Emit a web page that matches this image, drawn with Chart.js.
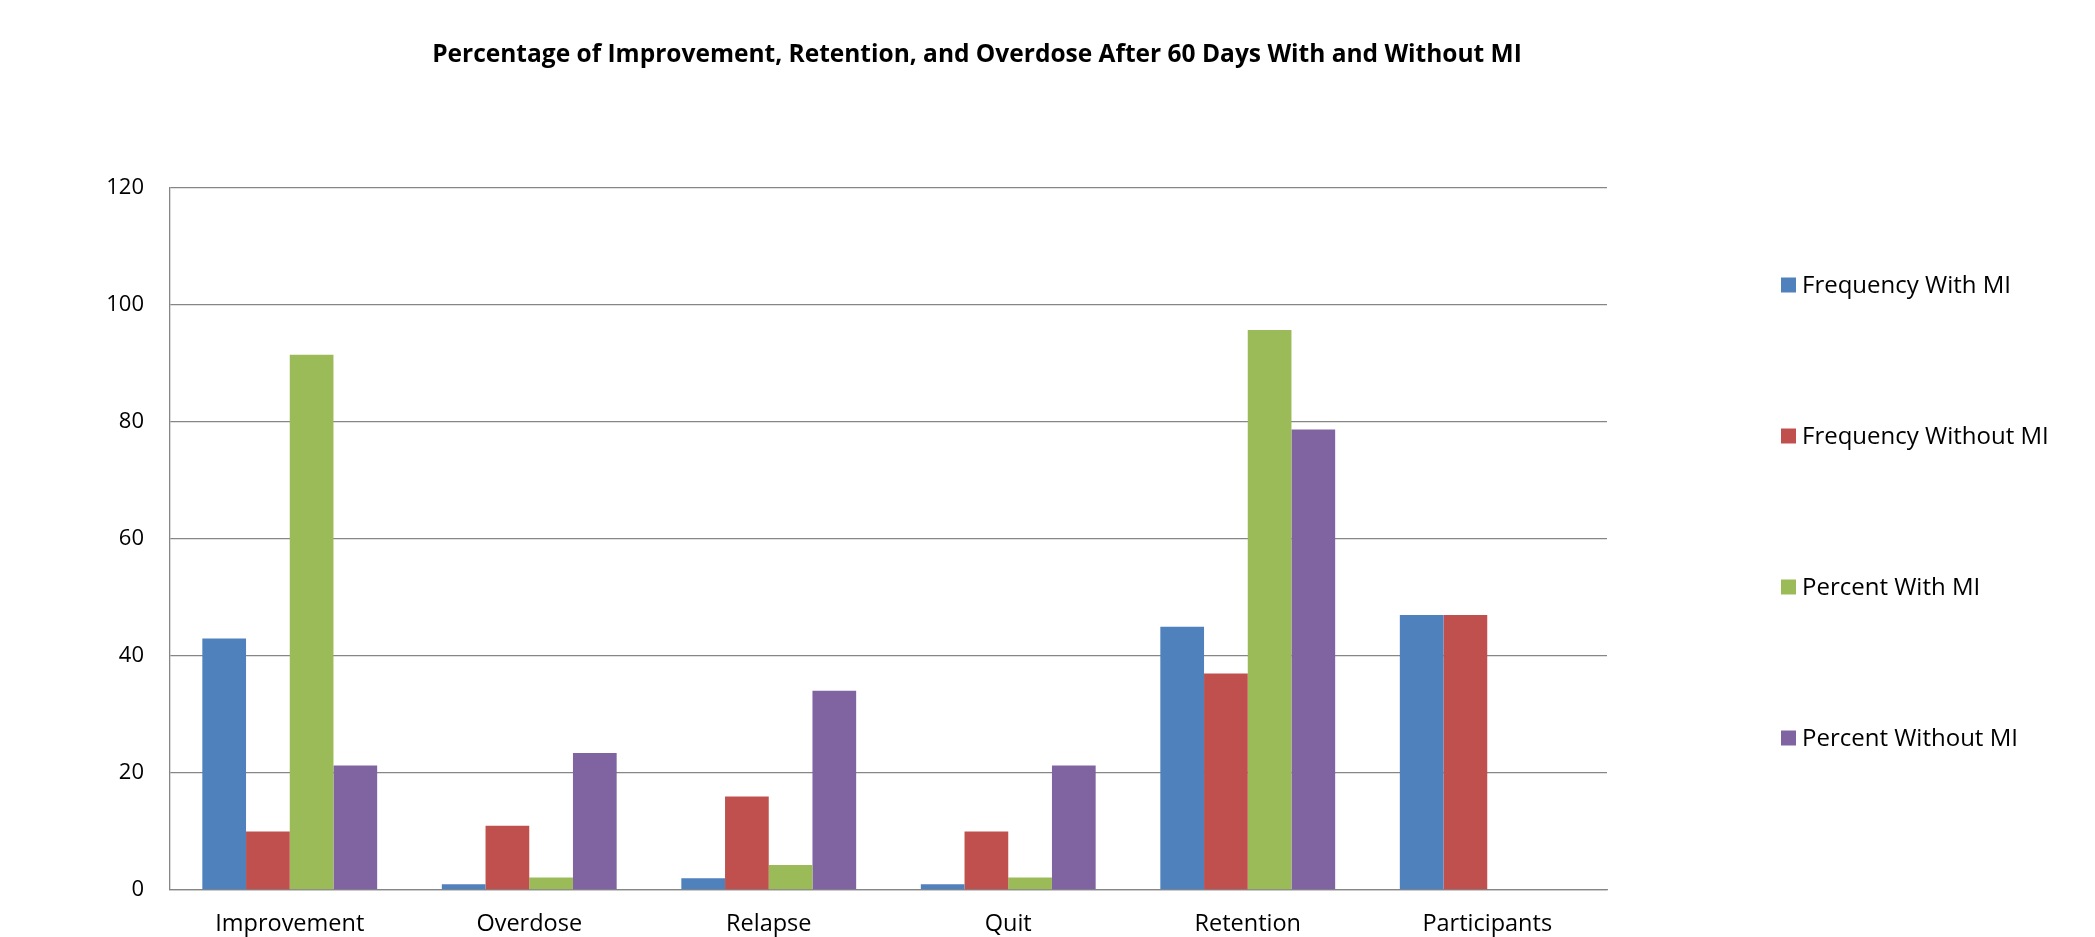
<!DOCTYPE html>
<html>
<head>
<meta charset="utf-8">
<script src="https://cdn.jsdelivr.net/npm/chart.js@4/dist/chart.umd.min.js"></script>
<style>
html,body{margin:0;padding:0;background:#fff;}
#wrap{width:2095px;height:937px;}
</style>
</head>
<body>
<div id="wrap"><canvas id="chart" width="2095" height="937"></canvas></div>
<script>
const titleText='Percentage of Improvement, Retention, and Overdose After 60 Days With and Without MI';
const categories=['Improvement','Overdose','Relapse','Quit','Retention','Participants'];
const seriesNames=['Frequency With MI','Frequency Without MI','Percent With MI','Percent Without MI'];
const freqWith=[43,1,2,1,45,47];
const freqWithout=[10,11,16,10,37,47];
const pctWith=[91.49,2.13,4.26,2.13,95.74,null];
const pctWithout=[21.28,23.40,34.04,21.28,78.72,null];
const seriesColors=['#4F81BD','#C0504D','#9BBB59','#8064A2'];
const yTicks=[0,20,40,60,80,100,120];

Chart.defaults.font.family='"Open Sans", "Noto Sans", sans-serif';
Chart.defaults.font.size=22;
Chart.defaults.color='#000';

// title + legend drawn by hand, Excel puts them where chart.js won't
const sideText={
  id:'sideText',
  afterDraw(chart){
    const c=chart.ctx;
    c.save();
    c.fillStyle='#000';
    c.font='bold 24.5px "Open Sans", sans-serif';
    c.textAlign='center'; c.textBaseline='middle';
    c.fillText(titleText,977,55);
    c.font='24px "Open Sans", sans-serif';
    c.textAlign='left';
    chart.data.datasets.forEach((ds,i)=>{
      const y=285+i*151;
      c.fillStyle=ds.backgroundColor;
      c.fillRect(1781,y-7.5,15,15);
      c.fillStyle='#000';
      c.fillText(ds.label,1802,y+1);
    });
    c.restore();
  }
};

const seriesData=[freqWith,freqWithout,pctWith,pctWithout];
const datasets=seriesNames.map((n,i)=>({label:n,data:seriesData[i],backgroundColor:seriesColors[i],borderWidth:0}));

new Chart(document.getElementById('chart').getContext('2d'),{
  type:'bar',
  data:{labels:categories,datasets},
  options:{
    responsive:false,
    animation:false,
    datasets:{bar:{categoryPercentage:0.73,barPercentage:1}},
    layout:{padding:{left:0,right:488,top:188,bottom:0}},
    plugins:{legend:{display:false},title:{display:false},tooltip:{enabled:false}},
    scales:{
      x:{
        grid:{display:false,drawTicks:false},
        border:{display:true,color:'#868686',width:1.3},
        ticks:{padding:20,font:{size:23.5}},
        afterFit:s=>{s.height=47;}
      },
      y:{
        min:0,max:120,
        afterBuildTicks:s=>{s.ticks=yTicks.map(v=>({value:v}));},
        grid:{color:'#868686',lineWidth:1.3,drawTicks:false},
        border:{display:true,color:'#868686',width:1.3},
        ticks:{padding:26,font:{size:22}},
        afterFit:s=>{s.width=170;}
      }
    }
  },
  plugins:[sideText]
});
</script>
</body>
</html>
